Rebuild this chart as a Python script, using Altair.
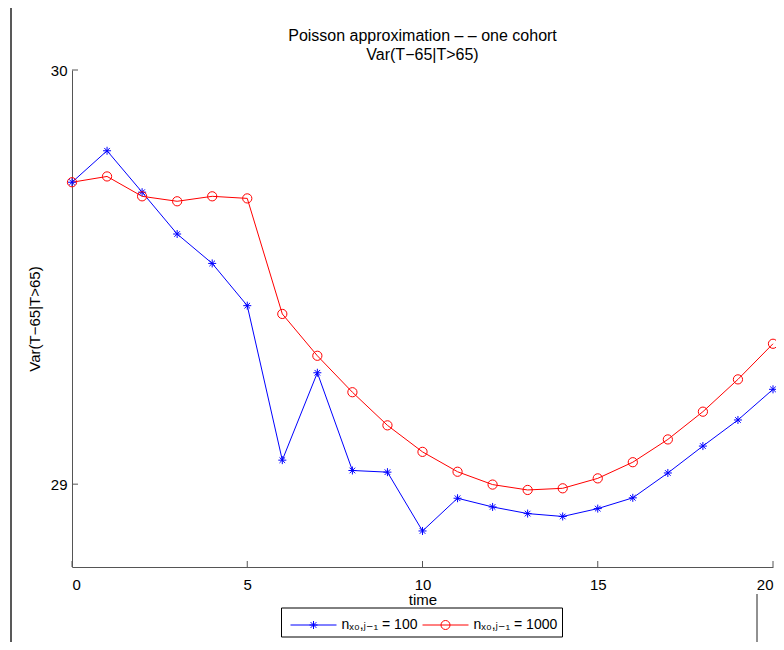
import altair as alt
import pandas as pd

# ---------------- data ----------------
time = list(range(21))
var_n100 = [29.729, 29.805, 29.705, 29.604, 29.533, 29.431, 29.058, 29.269, 29.033, 29.029,
            28.887, 28.966, 28.945, 28.929, 28.922, 28.941, 28.967, 29.027, 29.092, 29.155, 29.229]
var_n1000 = [29.729, 29.743, 29.695, 29.683, 29.695, 29.690, 29.411, 29.310, 29.222, 29.142,
             29.078, 29.030, 28.999, 28.986, 28.990, 29.014, 29.053, 29.108, 29.175, 29.253, 29.339]
series_names = ["nₓ₀,ⱼ₋₁ = 100", "nₓ₀,ⱼ₋₁ = 1000"]
series_colors = ["#0000ff", "#ff0000"]
x_ticks = [0, 5, 10, 15, 20]
y_ticks = [29, 30]

rows = []
for name, vals in zip(series_names, [var_n100, var_n1000]):
    for t, v in zip(time, vals):
        rows.append({"time": t, "value": v, "series": name})
df = pd.DataFrame(rows)

# ---------------- style ----------------
FONT = "Liberation Sans, Arial, DejaVu Sans"
AXIS_COLOR = "#555555"
W, H = 701, 497
PAD_BOTTOM = 75

STAR = "M-1,0L1,0M0,-1L0,1M-0.7,-0.7L0.7,0.7M-0.7,0.7L0.7,-0.7"
LEG_LINE = "M-1.84,0L1.84,0"
LEG_STAR = LEG_LINE + "M-0.32,0L0.32,0M0,-0.32L0,0.32M-0.23,-0.23L0.23,0.23M-0.23,0.23L0.23,-0.23"
LEG_CIRC = LEG_LINE + "M0.36,0A0.36,0.36,0,1,1,-0.36,0A0.36,0.36,0,1,1,0.36,0"

x_scale = alt.Scale(domain=[0, 20], nice=False, zero=False)
y_scale = alt.Scale(domain=[28.8, 30], nice=False, zero=False)
color_scale = alt.Scale(domain=series_names, range=series_colors)

x_axis = alt.Axis(values=x_ticks, title="time", labelPadding=10, titlePadding=0,
                  labelFlush=True, labelFlushOffset=0, ticks=False, grid=False, format="d")
y_axis = alt.Axis(values=y_ticks, title="Var(T−65|T>65)", labelPadding=5, titlePadding=8,
                  ticks=False, grid=False, format="d")

X = alt.X("time:Q", scale=x_scale, axis=x_axis)
Y = alt.Y("value:Q", scale=y_scale, axis=y_axis)

base = alt.Chart(df)

lines = base.mark_line(strokeWidth=1).encode(
    x=X, y=Y,
    color=alt.Color("series:N", scale=color_scale, legend=None),
)

points = base.mark_point(filled=False, strokeWidth=1, opacity=1).encode(
    x=X, y=Y,
    color=alt.Color("series:N", scale=color_scale, legend=None),
    shape=alt.Shape("series:N", scale=alt.Scale(domain=series_names, range=[STAR, "circle"]), legend=None),
    size=alt.Size("series:N", scale=alt.Scale(domain=series_names, range=[64, 85]), legend=None),
)

leg = alt.Legend(
    orient="none", legendX=209, legendY=537.5, direction="horizontal", title=None,
    padding=4.5, strokeColor="black", fillColor="white",
    symbolSize=625, symbolStrokeWidth=1, symbolOffset=15, labelOffset=15,
    columnPadding=0, labelFont=FONT, labelFontSize=14, labelColor="black",
    symbolFillColor="transparent",
)

legend_layer = base.transform_filter("false").mark_point(
    filled=False, strokeWidth=1, size=625, opacity=1
).encode(
    x=X, y=Y,
    color=alt.Color("series:N", scale=color_scale, legend=leg),
    shape=alt.Shape("series:N", scale=alt.Scale(domain=series_names, range=[LEG_STAR, LEG_CIRC]), legend=leg),
)

# inward ticks (placed through the same scales)
ytick_layer = alt.Chart(pd.DataFrame({"value": y_ticks})).mark_rule(color=AXIS_COLOR, strokeWidth=1).encode(
    y=Y, x=alt.value(0), x2=alt.value(6)
)
xtick_layer = alt.Chart(pd.DataFrame({"time": x_ticks})).mark_rule(color=AXIS_COLOR, strokeWidth=1).encode(
    x=X, y=alt.value(H), y2=alt.value(H - 6)
)

# figure window edges
frame_left = alt.Chart(pd.DataFrame({"a": [0]})).mark_rule(color="#222222", strokeWidth=1.5).encode(
    x=alt.value(-61), y=alt.value(-62), y2=alt.value(H + PAD_BOTTOM)
)
frame_right = alt.Chart(pd.DataFrame({"a": [0]})).mark_rule(color="#222222", strokeWidth=1).encode(
    x=alt.value(685), y=alt.value(H + 27), y2=alt.value(H + PAD_BOTTOM)
)

chart = alt.layer(
    lines, points, legend_layer, ytick_layer, xtick_layer, frame_left, frame_right
).resolve_scale(
    color="independent", shape="independent", size="independent"
).properties(
    width=W, height=H,
    autosize=alt.AutoSizeParams(type="none"),
    padding={"left": 64, "top": 62, "right": 3, "bottom": PAD_BOTTOM},
    title=alt.TitleParams(
        text=["Poisson approximation – – one cohort", "Var(T−65|T>65)"],
        font=FONT, fontSize=16, fontWeight="normal", color="black",
        anchor="middle", offset=8, dy=64, lineHeight=19, frame="group",
    ),
).configure_view(
    stroke=None
).configure_axis(
    domainColor=AXIS_COLOR, domainWidth=1,
    labelFont=FONT, labelFontSize=15, labelColor="black",
    titleFont=FONT, titleFontSize=15, titleFontWeight="normal", titleColor="black",
)

chart.save("out.html", embed_options={"renderer": "svg", "actions": False})
